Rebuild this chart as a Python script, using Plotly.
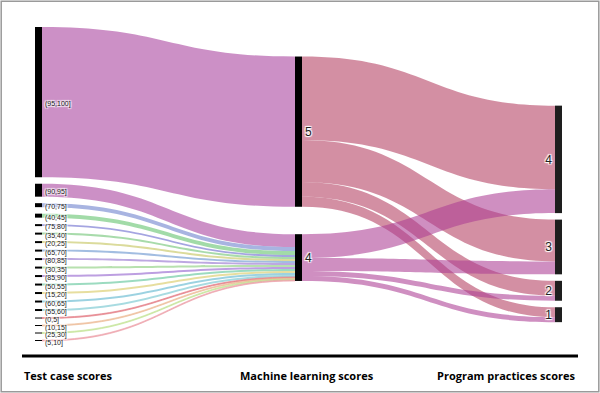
import plotly.graph_objects as go

# ---- data ----
test_case_bins = ["(95,100]", "(90,95]", "(70,75]", "(40,45]", "(75,80]", "(35,40]",
                  "(20,25]", "(65,70]", "(80,85]", "(30,35]", "(85,90]", "(50,55]",
                  "(15,20]", "(60,65]", "(55,60]", "(0,5]", "(10,15]", "(25,30]", "(5,10]"]
test_case_to_ml = [5, 4, 4, 4, 4, 4, 4, 4, 4, 4, 4, 4, 4, 4, 4, 4, 4, 4, 4]
test_case_counts = [151, 13, 4, 4, 2, 2, 2, 2, 2, 2, 2, 2, 2, 2, 2, 1, 1, 1, 1]

ml_scores = ["5", "4"]
pp_scores = ["4", "3", "2", "1"]
# machine learning score -> program practices score counts
ml_to_pp = {
    "5": [84, 42, 15, 10],
    "4": [24, 13, 5, 5],
}

stage_titles = ["Test case scores", "Machine learning scores", "Program practices scores"]

# ---- styles ----
src_colors = [
    "rgba(170,70,160,0.6)", "rgba(170,70,160,0.6)", "rgba(110,130,205,0.6)",
    "rgba(100,195,110,0.6)", "rgba(105,105,205,0.6)", "rgba(110,195,115,0.6)",
    "rgba(195,195,90,0.6)", "rgba(100,145,205,0.6)", "rgba(145,110,205,0.6)",
    "rgba(135,205,120,0.6)", "rgba(145,95,205,0.6)", "rgba(90,195,150,0.6)",
    "rgba(215,200,95,0.6)", "rgba(90,180,205,0.6)", "rgba(110,195,205,0.6)",
    "rgba(225,110,120,0.6)", "rgba(235,180,140,0.6)", "rgba(190,225,140,0.6)",
    "rgba(235,150,160,0.6)",
]
ml_colors = {"5": "rgba(180,62,97,0.58)", "4": "rgba(172,62,148,0.58)"}

n_left = len(test_case_bins)
labels = ["<span style='font-size:7px'>%s</span>" % b for b in test_case_bins] + ml_scores + pp_scores
ml_index = {s: n_left + i for i, s in enumerate(ml_scores)}
pp_index = {s: n_left + len(ml_scores) + i for i, s in enumerate(pp_scores)}

source, target, value, color = [], [], [], []
for i, (t, v) in enumerate(zip(test_case_to_ml, test_case_counts)):
    source.append(i)
    target.append(ml_index[str(t)])
    value.append(v)
    color.append(src_colors[i])
for m in ml_scores:
    for p, v in zip(pp_scores, ml_to_pp[m]):
        source.append(ml_index[m])
        target.append(pp_index[p])
        value.append(v)
        color.append(ml_colors[m])

node_colors = ["#000000"] * (n_left + len(ml_scores)) + ["#1e1e1e"] * len(pp_scores)

fig = go.Figure(go.Sankey(
    domain=dict(x=[35 / 600, 562 / 600], y=[1 - 341 / 393, 1 - 27 / 393]),
    arrangement="fixed",
    node=dict(label=labels, color=node_colors, pad=6.5, thickness=7,
              line=dict(width=0)),
    link=dict(source=source, target=target, value=value, color=color),
    textfont=dict(family="Liberation Sans, Arial, sans-serif", size=12, color="#222222"),
))

shapes = [
    dict(type="line", xref="paper", yref="paper", x0=22 / 600, x1=578 / 600,
         y0=1 - 356 / 393, y1=1 - 356 / 393, line=dict(color="black", width=3)),
    dict(type="rect", xref="paper", yref="paper", x0=0.002, x1=0.998, y0=0.003, y1=0.997,
         line=dict(color="#9a9a9a", width=1.5)),
]
annotations = []
for title, x, anchor in zip(stage_titles, [22 / 600, 307 / 600, 578 / 600], ["left", "center", "right"]):
    annotations.append(dict(text="<b>%s</b>" % title, x=x, y=1 - 375 / 393, xref="paper", yref="paper",
                            xanchor=anchor, yanchor="middle", showarrow=False,
                            font=dict(family="Open Sans, sans-serif", size=11, color="black")))

fig.update_layout(width=600, height=393, margin=dict(l=0, r=0, t=0, b=0),
                  paper_bgcolor="white", plot_bgcolor="white",
                  shapes=shapes, annotations=annotations)

fig.write_html("out.html", config={"displayModeBar": False},
               post_script="document.body.style.margin='0';")
